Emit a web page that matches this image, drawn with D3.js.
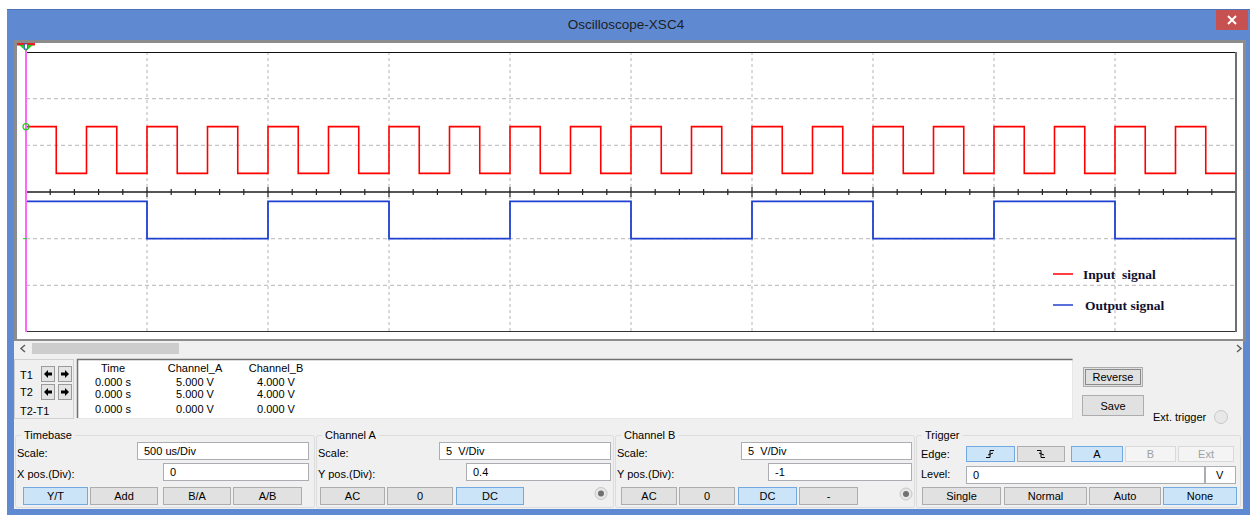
<!DOCTYPE html>
<html>
<head>
<meta charset="utf-8">
<script src="https://cdn.jsdelivr.net/npm/d3@7"></script>
<style>
  body { margin: 0; background: #fff; }
  svg { display: block; font-family: "Liberation Sans", Arial, sans-serif; }
</style>
</head>
<body>
<script>
// signal data (time in us, level in V)
const inputTimes = [0, 125, 250, 375, 500, 625, 750, 875, 1000, 1125, 1250, 1375, 1500, 1625, 1750, 1875,
  2000, 2125, 2250, 2375, 2500, 2625, 2750, 2875, 3000, 3125, 3250, 3375, 3500, 3625, 3750, 3875,
  4000, 4125, 4250, 4375, 4500, 4625, 4750, 4875, 5000];
const inputLevels = [5, 0, 5, 0, 5, 0, 5, 0, 5, 0, 5, 0, 5, 0, 5, 0, 5, 0, 5, 0,
  5, 0, 5, 0, 5, 0, 5, 0, 5, 0, 5, 0, 5, 0, 5, 0, 5, 0, 5, 0];
const outputTimes = [0, 500, 1000, 1500, 2000, 2500, 3000, 3500, 4000, 4500, 5000];
const outputLevels = [4, 0, 4, 0, 4, 0, 4, 0, 4, 0];

const legendLabels = ["Input  signal", "Output signal"];
const legendColors = ["#ff0000", "#2040d0"];

// readout table
const readHeaders = ["Time", "Channel_A", "Channel_B"];
const readRows = [
  ["0.000 s", "5.000 V", "4.000 V"],
  ["0.000 s", "5.000 V", "4.000 V"],
  ["0.000 s", "0.000 V", "0.000 V"]
];
const cursorLabels = ["T1", "T2", "T2-T1"];

// settings
const timebaseUs = 500;
const chAScale = 5, chAPos = 0.4;
const chBScale = 5, chBPos = -1;

const svg = d3.select("body").append("svg")
  .attr("width", 1250)
  .attr("height", 515);

// window frame
svg.append("rect").attr("x", 7).attr("y", 9).attr("width", 1243).attr("height", 506).attr("fill", "#5f8ad1");
svg.append("line").attr("x1", 7).attr("x2", 1250).attr("y1", 9.5).attr("y2", 9.5).attr("stroke", "#4d74b8");
svg.append("rect").attr("x", 14).attr("y", 40).attr("width", 1229).attr("height", 469).attr("fill", "#f0f0f0");
svg.append("text").attr("x", 626).attr("y", 29).attr("text-anchor", "middle")
  .attr("font-size", 13.5).attr("fill", "#1e1e1e").text("Oscilloscope-XSC4");
svg.append("rect").attr("x", 1216).attr("y", 10).attr("width", 32).attr("height", 20).attr("fill", "#c75050");
svg.append("path").attr("d", "M1228,16 L1236,24 M1236,16 L1228,24").attr("stroke", "#fff").attr("stroke-width", 2);

// plot panel
svg.append("rect").attr("x", 15.5).attr("y", 41.5).attr("width", 1229).attr("height", 299)
  .attr("fill", "#fff").attr("stroke", "#8c8c8c").attr("stroke-width", 3);

const xDiv = d3.scaleLinear().domain([0, 10]).range([26, 1236]);
const yDiv = d3.scaleLinear().domain([-3, 3]).range([332, 52]);
const xTime = d3.scaleLinear().domain([0, timebaseUs * 10]).range(xDiv.range());
const yA = v => yDiv(v / chAScale + chAPos);
const yB = v => yDiv(v / chBScale + chBPos);

const plot = svg.append("g");

// grid
plot.selectAll(".vgrid").data(d3.range(1, 10)).join("line")
  .attr("x1", d => xDiv(d)).attr("x2", d => xDiv(d))
  .attr("y1", 52).attr("y2", 332)
  .attr("stroke", "#b4b4b4").attr("stroke-dasharray", "3,3");
plot.selectAll(".hgrid").data([-2, -1, 1, 2]).join("line")
  .attr("x1", 26).attr("x2", 1236)
  .attr("y1", d => yDiv(d)).attr("y2", d => yDiv(d))
  .attr("stroke", "#c4c4c4").attr("stroke-width", 1.3).attr("stroke-dasharray", "4,3");

// centre axis with ticks
plot.append("line").attr("x1", 26).attr("x2", 1236).attr("y1", yDiv(0)).attr("y2", yDiv(0))
  .attr("stroke", "#555").attr("stroke-width", 2);
plot.selectAll(".tick").data(d3.range(1, 50)).join("line")
  .attr("x1", d => xDiv(d / 5)).attr("x2", d => xDiv(d / 5))
  .attr("y1", d => yDiv(0) - (d % 5 ? 3 : 5))
  .attr("y2", d => yDiv(0) + (d % 5 ? 3 : 5))
  .attr("stroke", "#222").attr("stroke-width", 1.2);

// frame
plot.append("line").attr("x1", 26).attr("x2", 1236).attr("y1", 52.5).attr("y2", 52.5).attr("stroke", "#111");
plot.append("line").attr("x1", 26).attr("x2", 1236).attr("y1", 331.5).attr("y2", 331.5).attr("stroke", "#333");
plot.append("line").attr("x1", 1236).attr("x2", 1236).attr("y1", 52).attr("y2", 332).attr("stroke", "#707070").attr("stroke-width", 2);

// traces
const stepLine = y => d3.line().x(d => xTime(d[0])).y(d => y(d[1])).curve(d3.curveStepAfter);
const inputPts = inputTimes.map((t, i) => [t, inputLevels[Math.min(i, inputLevels.length - 1)]]);
const outputPts = outputTimes.map((t, i) => [t, outputLevels[Math.min(i, outputLevels.length - 1)]]);

plot.append("path").attr("d", stepLine(yA)(inputPts))
  .attr("fill", "none").attr("stroke", legendColors[0]).attr("stroke-width", 1.6);
plot.append("path").attr("d", stepLine(yB)(outputPts))
  .attr("fill", "none").attr("stroke", legendColors[1]).attr("stroke-width", 1.8);

// cursor + markers
plot.append("line").attr("x1", 26).attr("x2", 26).attr("y1", 44).attr("y2", 332)
  .attr("stroke", "#ff66ff").attr("stroke-width", 2);
plot.append("rect").attr("x", 17).attr("y", 43).attr("width", 18).attr("height", 2.5).attr("fill", "#e82020");
plot.append("path").attr("d", "M19,45 L33,45 L26,51 Z").attr("fill", "#22cc22");
plot.append("rect").attr("x", 24.5).attr("y", 44).attr("width", 3).attr("height", 5).attr("fill", "#fff").attr("stroke", "#3050c0").attr("stroke-width", 0.8);
plot.append("circle").attr("cx", 26).attr("cy", yA(chAScale))
  .attr("r", 3).attr("fill", "none").attr("stroke", "#22cc22").attr("stroke-width", 1.2);
plot.append("line").attr("x1", 23).attr("x2", 27).attr("y1", yB(0)).attr("y2", yB(0)).attr("stroke", "#22cc22");

// legend
const legend = plot.selectAll(".legend").data(legendLabels).join("g")
  .attr("transform", (d, i) => `translate(1053, ${274 + i * 31})`);
legend.append("line").attr("x1", 0).attr("x2", 20).attr("y1", 0).attr("y2", 0)
  .attr("stroke", (d, i) => legendColors[i]).attr("stroke-width", 1.5);
legend.append("text").attr("x", (d, i) => 30 + i * 2).attr("y", 5)
  .attr("font-family", "'Liberation Serif', 'Times New Roman', serif")
  .attr("font-weight", "bold").attr("font-size", 13.5).attr("fill", "#101030")
  .style("white-space", "pre").text(d => d);

// scrollbar
svg.append("rect").attr("x", 14).attr("y", 341).attr("width", 1229).attr("height", 16).attr("fill", "#f0f0f0");
svg.append("rect").attr("x", 32).attr("y", 343).attr("width", 147).attr("height", 11).attr("fill", "#cdcdcd");
svg.append("path").attr("d", "M25,345 L21,348.5 L25,352").attr("fill", "none").attr("stroke", "#606060").attr("stroke-width", 1.5);
svg.append("path").attr("d", "M1237,345 L1241,348.5 L1237,352").attr("fill", "none").attr("stroke", "#606060").attr("stroke-width", 1.5);

// cursor panel
svg.append("rect").attr("x", 14.5).attr("y", 359.5).attr("width", 59).attr("height", 59)
  .attr("fill", "#f0f0f0").attr("stroke", "#d0d0d0");
svg.append("rect").attr("x", 77.5).attr("y", 359.5).attr("width", 995).attr("height", 59)
  .attr("fill", "#fff").attr("stroke", "#e6e6e6");
svg.append("path").attr("d", "M77.5,418 V359.5 H1072.5").attr("fill", "none").attr("stroke", "#707070").attr("stroke-width", 1.5);

svg.selectAll(".clab").data(cursorLabels).join("text")
  .attr("x", 20).attr("y", (d, i) => [379, 396, 415][i])
  .attr("font-size", 11).attr("fill", "#000").text(d => d);

function arrowButton(x, y, dir) {
  svg.append("rect").attr("x", x + 0.5).attr("y", y + 0.5).attr("width", 13).attr("height", 15)
    .attr("fill", "#e4e4e4").attr("stroke", "#9a9a9a");
  const cx = x + 7, cy = y + 8;
  const p = dir < 0
    ? `M${cx - 4},${cy} L${cx},${cy - 4} L${cx},${cy - 1.5} L${cx + 4},${cy - 1.5} L${cx + 4},${cy + 1.5} L${cx},${cy + 1.5} L${cx},${cy + 4} Z`
    : `M${cx + 4},${cy} L${cx},${cy - 4} L${cx},${cy - 1.5} L${cx - 4},${cy - 1.5} L${cx - 4},${cy + 1.5} L${cx},${cy + 1.5} L${cx},${cy + 4} Z`;
  svg.append("path").attr("d", p).attr("fill", "#000");
}
arrowButton(41, 366, -1); arrowButton(58, 366, 1);
arrowButton(41, 384, -1); arrowButton(58, 384, 1);

const colX = [113, 195, 276];
svg.selectAll(".rh").data(readHeaders).join("text")
  .attr("x", (d, i) => colX[i]).attr("y", 372).attr("text-anchor", "middle")
  .attr("font-size", 11).text(d => d);
readRows.forEach((row, r) => {
  svg.selectAll(".rr" + r).data(row).join("text")
    .attr("x", (d, i) => colX[i]).attr("y", [385.5, 398, 412.5][r]).attr("text-anchor", "middle")
    .attr("font-size", 11).text(d => d);
});

// widgets
function button(x1, y1, x2, y2, label, state) {
  const fill = state === "on" ? "#cce4f7" : state === "off" ? "#f4f4f4" : "#e1e1e1";
  const stroke = state === "on" ? "#72a9e0" : state === "off" ? "#d9d9d9" : "#adadad";
  svg.append("rect").attr("x", x1 + 0.5).attr("y", y1 + 0.5).attr("width", x2 - x1 - 1).attr("height", y2 - y1 - 1)
    .attr("fill", fill).attr("stroke", stroke);
  if (label) {
    svg.append("text").attr("x", (x1 + x2) / 2).attr("y", (y1 + y2) / 2 + 4).attr("text-anchor", "middle")
      .attr("font-size", 11).attr("fill", state === "off" ? "#a0a0a0" : "#000").text(label);
  }
}
function textbox(x1, y1, x2, y2, txt) {
  svg.append("rect").attr("x", x1 + 0.5).attr("y", y1 + 0.5).attr("width", x2 - x1 - 1).attr("height", y2 - y1 - 1)
    .attr("fill", "#fff").attr("stroke", "#abadb3");
  svg.append("text").attr("x", x1 + 7).attr("y", (y1 + y2) / 2 + 4).attr("font-size", 11)
    .style("white-space", "pre").text(txt);
}
function group(x1, x2, label) {
  svg.append("rect").attr("x", x1 + 0.5).attr("y", 435.5).attr("width", x2 - x1).attr("height", 72)
    .attr("rx", 2).attr("fill", "none").attr("stroke", "#dcdcdc");
  const bg = svg.append("rect").attr("x", x1 + 6).attr("y", 430).attr("height", 10).attr("fill", "#f0f0f0");
  const t = svg.append("text").attr("x", x1 + 9).attr("y", 439).attr("font-size", 11).text(label);
  bg.attr("width", t.node().getComputedTextLength() + 6);
}
function label(x, y, txt) {
  svg.append("text").attr("x", x).attr("y", y).attr("font-size", 11).text(txt);
}

// Reverse / Save
button(1083, 367, 1143, 387, "Reverse", "");
svg.append("rect").attr("x", 1085.5).attr("y", 369.5).attr("width", 55).attr("height", 15)
  .attr("fill", "none").attr("stroke", "#333").attr("stroke-dasharray", "1,1");
button(1082, 395, 1144, 416, "Save", "");
label(1153, 421, "Ext. trigger");
svg.append("circle").attr("cx", 1221).attr("cy", 417).attr("r", 6.5).attr("fill", "#e8e8e8").attr("stroke", "#c8c8c8");

// Timebase
group(15, 314, "Timebase");
label(17, 456.5, "Scale:");
label(17, 478, "X pos.(Div):");
textbox(137, 442, 309, 460, "500 us/Div");
textbox(163, 463, 309, 481, "0");
button(23, 487, 88, 505, "Y/T", "on");
button(90, 487, 158, 505, "Add", "");
button(163, 487, 231, 505, "B/A", "");
button(233, 487, 302, 505, "A/B", "");

// Channel A
group(316, 613, "Channel A");
label(318, 456.5, "Scale:");
label(318, 478, "Y pos.(Div):");
textbox(439, 442, 611, 460, "5  V/Div");
textbox(466, 463, 611, 481, "0.4");
button(320, 487, 385, 505, "AC", "");
button(387, 487, 453, 505, "0", "");
button(456, 487, 524, 505, "DC", "on");
svg.append("circle").attr("cx", 601).attr("cy", 493.5).attr("r", 6).attr("fill", "#e6e6e6").attr("stroke", "#c8c8c8");
svg.append("circle").attr("cx", 601).attr("cy", 493.5).attr("r", 3).attr("fill", "#707070");

// Channel B
group(615, 914, "Channel B");
label(617, 456.5, "Scale:");
label(617, 478, "Y pos.(Div):");
textbox(741, 442, 912, 460, "5  V/Div");
textbox(768, 463, 912, 481, "-1");
button(621, 487, 677, 505, "AC", "");
button(679, 487, 735, 505, "0", "");
button(738, 487, 797, 505, "DC", "on");
button(799, 487, 858, 505, "-", "");
svg.append("circle").attr("cx", 906).attr("cy", 494).attr("r", 6).attr("fill", "#e6e6e6").attr("stroke", "#c8c8c8");
svg.append("circle").attr("cx", 906).attr("cy", 494).attr("r", 3).attr("fill", "#707070");

// Trigger
group(916, 1240, "Trigger");
label(921, 458, "Edge:");
label(921, 478, "Level:");
button(966, 446, 1015, 462, "", "on");
svg.append("path").attr("d", "M986,457.5 H990 V450.5 H994 M988,455 L993,453").attr("fill", "none").attr("stroke", "#000");
button(1017, 446, 1065, 462, "", "");
svg.append("path").attr("d", "M1037,450.5 H1041 V457.5 H1045 M1039,453 L1044,455").attr("fill", "none").attr("stroke", "#000");
button(1071, 446, 1123, 462, "A", "on");
button(1125, 446, 1176, 462, "B", "off");
button(1178, 446, 1234, 462, "Ext", "off");
textbox(966, 466, 1205, 484, "0");
svg.append("rect").attr("x", 1205.5).attr("y", 466.5).attr("width", 30).attr("height", 17).attr("fill", "#fff").attr("stroke", "#abadb3");
svg.append("text").attr("x", 1216).attr("y", 479).attr("font-size", 11).text("V");
button(922, 487, 1001, 505, "Single", "");
button(1004, 487, 1087, 505, "Normal", "");
button(1089, 487, 1161, 505, "Auto", "");
button(1163, 487, 1237, 505, "None", "on");
</script>
</body>
</html>
